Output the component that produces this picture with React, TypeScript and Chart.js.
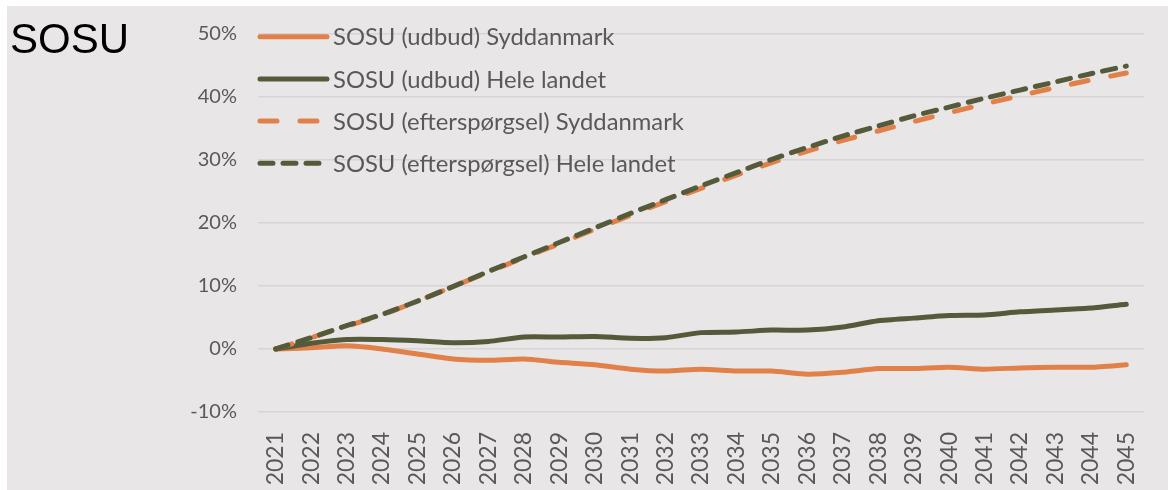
import React, { useEffect, useRef } from "react";
import { Chart, registerables } from "chart.js";

Chart.register(...registerables);

const years = [
  "2021", "2022", "2023", "2024", "2025", "2026", "2027", "2028", "2029", "2030",
  "2031", "2032", "2033", "2034", "2035", "2036", "2037", "2038", "2039", "2040",
  "2041", "2042", "2043", "2044", "2045",
];

const udbudSyddanmark = [
  0, 0.2, 0.5, 0, -0.8, -1.6, -1.8, -1.6, -2.1, -2.5,
  -3.2, -3.5, -3.2, -3.5, -3.5, -4.0, -3.7, -3.1, -3.1, -2.9,
  -3.2, -3.0, -2.9, -2.9, -2.5,
];

const udbudHeleLandet = [
  0, 0.9, 1.5, 1.5, 1.3, 1.0, 1.2, 1.9, 1.9, 2.0,
  1.7, 1.8, 2.6, 2.7, 3.0, 3.0, 3.5, 4.5, 4.9, 5.3,
  5.4, 5.9, 6.2, 6.5, 7.1,
];

const efterspSyddanmark = [
  0, 1.8, 3.6, 5.4, 7.6, 9.9, 12.2, 14.5, 16.7, 19.0,
  21.2, 23.4, 25.5, 27.6, 29.6, 31.4, 33.1, 34.6, 36.1, 37.5,
  38.9, 40.2, 41.5, 42.7, 43.8,
];

const efterspHeleLandet = [
  0, 1.8, 3.7, 5.5, 7.6, 9.9, 12.3, 14.6, 16.9, 19.2,
  21.5, 23.7, 25.9, 28.0, 30.1, 32.0, 33.8, 35.4, 37.0, 38.4,
  39.8, 41.1, 42.4, 43.7, 44.9,
];

const seriesLabels = [
  "SOSU (udbud) Syddanmark",
  "SOSU (udbud) Hele landet",
  "SOSU (efterspørgsel) Syddanmark",
  "SOSU (efterspørgsel) Hele landet",
];

const yTicks = [-10, 0, 10, 20, 30, 40, 50];

const ORANGE = "#E2804A";
const GREEN = "#555A3A";
const TEXT = "#595959";
const FONT = "Lato, 'Open Sans', sans-serif";

const W = 1161;
const H = 484;

const titlePlugin = {
  id: "sosuTitle",
  afterDraw(chart: any) {
    const ctx = chart.ctx;
    ctx.save();
    ctx.fillStyle = "#000000";
    ctx.font = "42px 'Liberation Sans', Arial, sans-serif";
    ctx.textBaseline = "alphabetic";
    ctx.textAlign = "left";
    ctx.fillText("SOSU", 3, 47);
    ctx.restore();
  },
};

const legendPlugin = {
  id: "insideLegend",
  afterDraw(chart: any) {
    const ctx = chart.ctx;
    const x0 = 253;
    const x1 = 320;
    const y0 = 30.7;
    const dy = 42.2;
    chart.data.datasets.forEach((ds: any, i: number) => {
      const y = y0 + i * dy;
      ctx.save();
      ctx.strokeStyle = ds.borderColor;
      ctx.lineWidth = ds.borderWidth;
      ctx.lineCap = "round";
      ctx.setLineDash(ds.borderDash || []);
      ctx.beginPath();
      ctx.moveTo(x0, y);
      ctx.lineTo(x1, y);
      ctx.stroke();
      ctx.setLineDash([]);
      ctx.fillStyle = TEXT;
      ctx.font = `23.8px ${FONT}`;
      ctx.textBaseline = "middle";
      ctx.textAlign = "left";
      ctx.fillText(ds.label, 326, y + 1);
      ctx.restore();
    });
  },
};

export default function App() {
  const canvasRef = useRef<HTMLCanvasElement | null>(null);

  useEffect(() => {
    if (!canvasRef.current) return;
    const lw = 5;
    const chart = new Chart(canvasRef.current, {
      type: "line",
      data: {
        labels: years,
        datasets: [
          {
            label: seriesLabels[0],
            data: udbudSyddanmark,
            borderColor: ORANGE,
            backgroundColor: ORANGE,
            borderWidth: lw,
            pointRadius: 0,
            tension: 0.2,
            borderCapStyle: "round",
            borderJoinStyle: "round",
            order: 3,
          },
          {
            label: seriesLabels[1],
            data: udbudHeleLandet,
            borderColor: GREEN,
            backgroundColor: GREEN,
            borderWidth: lw,
            pointRadius: 0,
            tension: 0.2,
            borderCapStyle: "round",
            borderJoinStyle: "round",
            order: 2,
          },
          {
            label: seriesLabels[2],
            data: efterspSyddanmark,
            borderColor: ORANGE,
            backgroundColor: ORANGE,
            borderWidth: lw,
            borderDash: [17, 23],
            pointRadius: 0,
            tension: 0.2,
            borderCapStyle: "round",
            borderJoinStyle: "round",
            order: 1,
          },
          {
            label: seriesLabels[3],
            data: efterspHeleLandet,
            borderColor: GREEN,
            backgroundColor: GREEN,
            borderWidth: lw,
            borderDash: [13, 10],
            pointRadius: 0,
            tension: 0.2,
            borderCapStyle: "round",
            borderJoinStyle: "round",
            order: 0,
          },
        ],
      },
      options: {
        responsive: false,
        animation: false,
        layout: { padding: { top: 28, right: 24, bottom: 6, left: 0 } },
        plugins: {
          legend: { display: false },
          tooltip: { enabled: false },
          title: { display: false },
        },
        scales: {
          x: {
            type: "category",
            offset: true,
            grid: { display: false, drawTicks: false },
            border: { display: false },
            ticks: {
              color: TEXT,
              font: { family: FONT, size: 23 },
              minRotation: 90,
              maxRotation: 90,
              padding: 20,
              autoSkip: false,
            },
            afterFit: (s: any) => {
              s.height = 72;
              s.paddingLeft = 0;
              s.paddingRight = 0;
            },
          },
          y: {
            min: -10,
            max: 50,
            afterBuildTicks: (s: any) => {
              s.ticks = yTicks.map((v) => ({ value: v }));
            },
            grid: { color: "#D6D4D5", lineWidth: 1.5, drawTicks: false },
            border: { display: false },
            ticks: {
              color: TEXT,
              font: { family: FONT, size: 20 },
              padding: 21,
              callback: (v: any) => `${v}%`,
            },
            afterFit: (s: any) => {
              s.width = 251;
              s.paddingTop = 0;
              s.paddingBottom = 0;
            },
          },
        },
      },
      plugins: [titlePlugin, legendPlugin],
    });
    return () => chart.destroy();
  }, []);

  return (
    <div
      style={{
        position: "absolute",
        left: 7,
        top: 6,
        width: W,
        height: H,
        background: "#E8E6E7",
      }}
    >
      <canvas ref={canvasRef} width={W} height={H} style={{ display: "block" }} />
    </div>
  );
}
